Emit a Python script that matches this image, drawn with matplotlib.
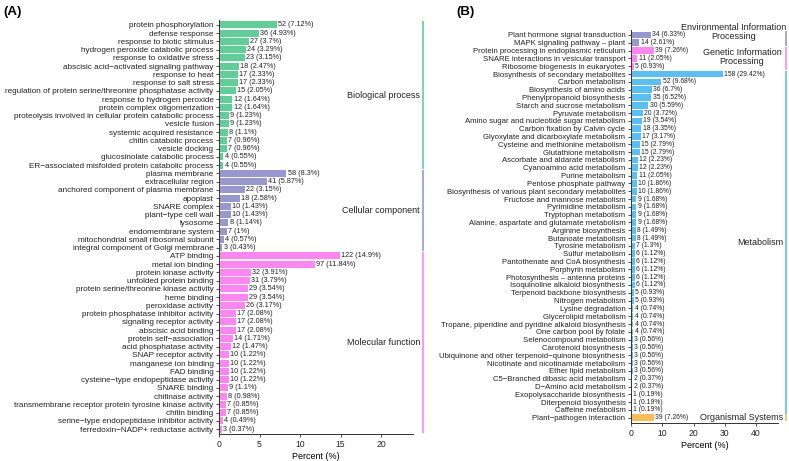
import matplotlib
matplotlib.use("Agg")
import matplotlib.pyplot as plt
import matplotlib.transforms as mtransforms

plt.rcParams['font.family'] = ['Liberation Sans', 'DejaVu Sans']

# ---- panel A : GO ----
go_terms = [
    "protein phosphorylation", "defense response", "response to biotic stimulus",
    "hydrogen peroxide catabolic process", "response to oxidative stress",
    "abscisic acid\u2212activated signaling pathway", "response to heat",
    "response to salt stress",
    "regulation of protein serine/threonine phosphatase activity",
    "response to hydrogen peroxide", "protein complex oligomerization",
    "proteolysis involved in cellular protein catabolic process", "vesicle fusion",
    "systemic acquired resistance", "chitin catabolic process", "vesicle docking",
    "glucosinolate catabolic process",
    "ER\u2212associated misfolded protein catabolic process",
    "plasma membrane", "extracellular region",
    "anchored component of plasma membrane", "apoplast", "SNARE complex",
    "plant\u2212type cell wall", "lysosome", "endomembrane system",
    "mitochondrial small ribosomal subunit", "integral component of Golgi membrane",
    "ATP binding", "metal ion binding", "protein kinase activity",
    "unfolded protein binding", "protein serine/threonine kinase activity",
    "heme binding", "peroxidase activity", "protein phosphatase inhibitor activity",
    "signaling receptor activity", "abscisic acid binding",
    "protein self\u2212association", "acid phosphatase activity",
    "SNAP receptor activity", "manganese ion binding", "FAD binding",
    "cysteine\u2212type endopeptidase activity", "SNARE binding", "chitinase activity",
    "transmembrane receptor protein tyrosine kinase activity", "chitin binding",
    "serine\u2212type endopeptidase inhibitor activity",
    "ferredoxin\u2212NADP+ reductase activity",
]
go_counts = [52, 36, 27, 24, 23, 18, 17, 17, 15, 12, 12, 9, 9, 8, 7, 7, 4, 4,
             58, 41, 22, 18, 10, 10, 8, 7, 4, 3,
             122, 97, 32, 31, 29, 29, 26, 17, 17, 17, 14, 12, 10, 10, 10, 10,
             9, 8, 7, 7, 4, 3]
go_pct = [7.12, 4.93, 3.7, 3.29, 3.15, 2.47, 2.33, 2.33, 2.05, 1.64, 1.64, 1.23,
          1.23, 1.1, 0.96, 0.96, 0.55, 0.55,
          8.3, 5.87, 3.15, 2.58, 1.43, 1.43, 1.14, 1, 0.57, 0.43,
          14.9, 11.84, 3.91, 3.79, 3.54, 3.54, 3.17, 2.08, 2.08, 2.08, 1.71,
          1.47, 1.22, 1.22, 1.22, 1.22, 1.1, 0.98, 0.85, 0.85, 0.49, 0.37]
go_groups = ["Biological process", "Cellular component", "Molecular function"]
go_sizes = [18, 10, 22]
go_colors = ["#5FCF97", "#9898D0", "#FF85F2"]

# ---- panel B : KEGG ----
kegg_terms = [
    "Plant hormone signal transduction", "MAPK signaling pathway \u2013 plant",
    "Protein processing in endoplasmic reticulum",
    "SNARE interactions in vesicular transport",
    "Ribosome biogenesis in eukaryotes",
    "Biosynthesis of secondary metabolites", "Carbon metabolism",
    "Biosynthesis of amino acids", "Phenylpropanoid biosynthesis",
    "Starch and sucrose metabolism", "Pyruvate metabolism",
    "Amino sugar and nucleotide sugar metabolism", "Carbon fixation by Calvin cycle",
    "Glyoxylate and dicarboxylate metabolism", "Cysteine and methionine metabolism",
    "Glutathione metabolism", "Ascorbate and aldarate metabolism",
    "Cyanoamino acid metabolism", "Purine metabolism", "Pentose phosphate pathway",
    "Biosynthesis of various plant secondary metabolites",
    "Fructose and mannose metabolism", "Pyrimidine metabolism",
    "Tryptophan metabolism", "Alanine, aspartate and glutamate metabolism",
    "Arginine biosynthesis", "Butanoate metabolism", "Tyrosine metabolism",
    "Sulfur metabolism", "Pantothenate and CoA biosynthesis", "Porphyrin metabolism",
    "Photosynthesis \u2013 antenna proteins", "Isoquinoline alkaloid biosynthesis",
    "Terpenoid backbone biosynthesis", "Nitrogen metabolism", "Lysine degradation",
    "Glycerolipid metabolism",
    "Tropane, piperidine and pyridine alkaloid biosynthesis",
    "One carbon pool by folate", "Selenocompound metabolism",
    "Carotenoid biosynthesis",
    "Ubiquinone and other terpenoid\u2212quinone biosynthesis",
    "Nicotinate and nicotinamide metabolism", "Ether lipid metabolism",
    "C5\u2212Branched dibasic acid metabolism", "D\u2212Amino acid metabolism",
    "Exopolysaccharide biosynthesis", "Diterpenoid biosynthesis",
    "Caffeine metabolism", "Plant\u2212pathogen interaction",
]
kegg_counts = [34, 14, 39, 11, 5, 158, 52, 36, 35, 30, 20, 19, 18, 17, 15, 15,
               12, 12, 11, 10, 10, 9, 9, 9, 9, 8, 8, 7, 6, 6, 6, 6, 6, 5, 5, 4,
               4, 4, 4, 3, 3, 3, 3, 3, 2, 2, 1, 1, 1, 39]
kegg_pct = [6.33, 2.61, 7.26, 2.05, 0.93, 29.42, 9.68, 6.7, 6.52, 5.59, 3.72,
            3.54, 3.35, 3.17, 2.79, 2.79, 2.23, 2.23, 2.05, 1.86, 1.86, 1.68,
            1.68, 1.68, 1.68, 1.49, 1.49, 1.3, 1.12, 1.12, 1.12, 1.12, 1.12,
            0.93, 0.93, 0.74, 0.74, 0.74, 0.74, 0.56, 0.56, 0.56, 0.56, 0.56,
            0.37, 0.37, 0.19, 0.19, 0.19, 7.26]
kegg_groups = ["Environmental Information\nProcessing",
               "Genetic Information\nProcessing", "Metabolism", "Organismal Systems"]
kegg_sizes = [2, 3, 44, 1]
kegg_colors = ["#9898D0", "#FF85F2", "#58C0F7", "#F8BE55"]

W, H = 789, 461


def draw_panel(ax, terms, counts, pct, groups, sizes, colors, xmax, xticks,
               strip_x, label_x, label_fs, value_fs, tick_fs):
    n = len(terms)
    bar_colors = []
    for g, s in enumerate(sizes):
        bar_colors += [colors[g]] * s
    y = list(range(n))
    ax.barh(y, pct, height=0.85, color=bar_colors)
    for yi, c, p in zip(y, counts, pct):
        ax.annotate(f"{c} ({p:g}%)", (p, yi), xytext=(1.0, 0),
                    textcoords='offset points', va='center', ha='left',
                    fontsize=value_fs, color='#222222')
    ax.set_yticks(y)
    ax.set_yticklabels(terms, fontsize=tick_fs, color='#222222')
    ax.set_ylim(n - 0.4, -0.6)
    ax.set_xlim(0, xmax)
    ax.set_xticks(xticks)
    ax.tick_params(axis='x', labelsize=6.2, length=2.5, width=0.6, color='#333333',
                   labelcolor='#222222', pad=2)
    ax.tick_params(axis='y', length=2.5, width=0.6, color='#333333', pad=1.5)
    ax.set_xlabel("Percent (%)", fontsize=6.5, labelpad=2)
    for sp in ['top', 'right']:
        ax.spines[sp].set_visible(False)
    for sp in ['left', 'bottom']:
        ax.spines[sp].set_linewidth(0.7)
        ax.spines[sp].set_color('#333333')

    trans = mtransforms.blended_transform_factory(ax.transAxes, ax.transData)
    start = 0
    for g, s in enumerate(sizes):
        lo, hi = start - 0.45, start + s - 0.55
        ax.plot([strip_x, strip_x], [lo, hi], color=colors[g], lw=1.2,
                transform=trans, clip_on=False, solid_capstyle='butt')
        if "\n" not in groups[g]:
            ax.text(label_x, start + (s - 1) / 2, groups[g], transform=trans,
                    ha='right', va='center', fontsize=label_fs, color='#222222',
                    clip_on=False)
        start += s
    return trans


fig = plt.figure(figsize=(W / 100, H / 100), dpi=100)

axA = fig.add_axes([219 / W, (H - 434) / H, (413 - 219) / W, (434 - 20) / H])
draw_panel(axA, go_terms, go_counts, go_pct, go_groups, go_sizes, go_colors,
           23.95, [0, 5, 10, 15, 20], 1.052, 1.036, 6.5, 5.2, 5.9)

axB = fig.add_axes([631 / W, (H - 422.5) / H, (778 - 631) / W, (422.5 - 30.3) / H])
transB = draw_panel(axB, kegg_terms, kegg_counts, kegg_pct, kegg_groups, kegg_sizes,
                    kegg_colors, 47.0, [0, 10, 20, 30, 40], 1.054, 1.034,
                    6.5, 4.85, 5.6)

# two-line strip labels of panel B, each line centred on its own box
for label, cx, rows in [(kegg_groups[0], 0.70, (-1.02, 0.13)),
                        (kegg_groups[1], 0.755, (2.30, 3.45))]:
    for line, yy in zip(label.split("\n"), rows):
        axB.text(cx, yy, line, transform=transB, ha='center', va='center',
                 fontsize=6.5, color='#222222', clip_on=False)

fig.text(3 / W, 1 - 12 / H, "(A)", fontsize=9.5, fontweight='bold', va='center')
fig.text(456 / W, 1 - 12 / H, "(B)", fontsize=9.5, fontweight='bold', va='center')

fig.savefig("out.png", dpi=100)
